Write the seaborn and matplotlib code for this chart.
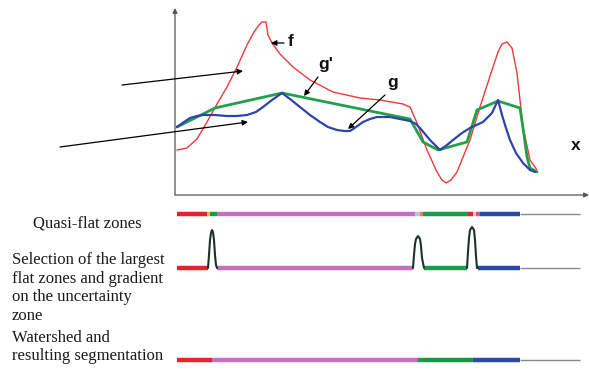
import matplotlib
matplotlib.use("Agg")
import pandas as pd
import matplotlib.pyplot as plt
import seaborn as sns

sns.set_theme(style="white")
plt.rcParams["font.family"] = ["Liberation Sans", "DejaVu Sans"]

# everything in pixel units (y grows downwards)
f_x = [177, 187, 197, 207, 217, 227, 237, 247, 254, 259, 262, 266, 268, 272, 280, 293, 310, 333, 360, 380,
       403, 410, 417, 427, 437, 442, 446, 451, 457, 470, 480, 493, 498, 502, 507, 512, 517, 523, 530, 537]
f_y = [150, 148, 139, 122, 104, 87, 67, 45, 32, 25, 22, 22, 35, 43, 54, 67, 80, 92, 98, 100,
       104, 107, 123, 150, 172, 180, 183, 180, 172, 140, 107, 67, 52, 44, 42, 48, 73, 127, 160, 170]

gp_x = [177, 215, 282, 380, 410, 423, 438, 467, 477, 498, 520, 524, 527, 530, 537]
gp_y = [127, 108, 93, 113, 119, 142, 150, 142, 110, 101, 108, 135, 157, 168, 172]

g_x = [177, 184, 190, 197, 203, 215, 227, 237, 247, 256, 263, 272, 282, 290, 300, 310, 320, 328, 337, 344,
       350, 356, 363, 370, 377, 390, 400, 410, 416, 420, 430, 440, 447, 453, 462, 470, 483, 492, 498, 502,
       506, 510, 516, 523, 530, 535]
g_y = [127, 122, 118, 116, 115, 115, 116, 116, 115, 112, 107, 100, 93, 99, 107, 115, 122, 127, 130, 131,
       131, 127, 122, 119, 117, 117, 119, 121, 124, 128, 140, 150, 145, 140, 133, 128, 122, 113, 100, 115,
       128, 140, 153, 163, 170, 172]

# row 1: quasi-flat zones
row1_start = [177, 207, 210, 217, 415, 420, 423, 468, 473, 476, 480]
row1_end = [207, 210, 217, 415, 420, 423, 468, 473, 476, 480, 520]
row1_col = ["#e5232b", "#c8c850", "#1b9a4a", "#c46fc0", "#b8c8d8", "#e08a50", "#1b9a4a", "#e5232b",
            "#f0c0d0", "#d0509a", "#2b4ba3"]

# row 2: largest flat zones + gradient on uncertainty zone
row2_start = [177, 217, 424, 478]
row2_end = [208, 413, 467, 520]
row2_col = ["#e5232b", "#c46fc0", "#1b9a4a", "#2b4ba3"]
peak_x = [
    [208, 209, 210, 211, 212, 213, 214, 215, 216, 217],
    [413, 414, 415, 416, 418, 420, 421, 422, 424],
    [467, 468, 469, 470, 472, 474, 475, 476, 477, 478],
]
peak_y = [
    [268, 255, 240, 233, 230, 232, 240, 255, 265, 268],
    [268, 255, 244, 239, 236, 239, 246, 258, 268],
    [268, 252, 238, 230, 227, 230, 240, 256, 268, 268],
]

# row 3: watershed segmentation
row3_start = [177, 212, 418, 473]
row3_end = [212, 418, 473, 520]
row3_col = ["#e5232b", "#c46fc0", "#1b9a4a", "#2b4ba3"]

row_y = [214, 268, 360]
tail_end = 580

fig = plt.figure(figsize=(5.89, 3.80), dpi=100)
ax = fig.add_axes([0, 0, 1, 1])
ax.set_xlim(0, 589)
ax.set_ylim(380, 0)
ax.axis("off")

# axes of the sketch
arrow_kw = dict(arrowstyle="-|>", color="#555555", lw=0.9, mutation_scale=7, shrinkA=0, shrinkB=0)
ax.annotate("", xy=(175, 8), xytext=(175, 195), arrowprops=arrow_kw)
ax.annotate("", xy=(589, 195), xytext=(175, 195), arrowprops=arrow_kw)

curves = pd.concat([
    pd.DataFrame({"x": f_x, "y": f_y, "curve": "f"}),
    pd.DataFrame({"x": gp_x, "y": gp_y, "curve": "g'"}),
    pd.DataFrame({"x": g_x, "y": g_y, "curve": "g"}),
])
styles = {"f": ("#ec3a3a", 1.0), "g'": ("#22a04c", 2.0), "g": ("#2d45a8", 1.6)}
for name in ["f", "g'", "g"]:
    col, lw = styles[name]
    sub = curves[curves["curve"] == name]
    sns.lineplot(data=sub, x="x", y="y", sort=False, estimator=None, color=col, lw=lw, ax=ax)
ax.set_xlabel("")
ax.set_ylabel("")

# pointer arrows
ptr = dict(arrowstyle="-|>", color="black", lw=0.9, mutation_scale=8, shrinkA=0, shrinkB=0)
ax.annotate("", xy=(243, 71), xytext=(122, 85), arrowprops=ptr)
ax.annotate("", xy=(248, 122), xytext=(60, 147), arrowprops=ptr)
ax.annotate("", xy=(271, 43), xytext=(284, 43), arrowprops=ptr)
ax.annotate("", xy=(304, 96), xytext=(318, 77), arrowprops=ptr)
ax.annotate("", xy=(348, 129), xytext=(385, 95), arrowprops=ptr)

lab = dict(fontsize=12.5, fontweight="bold", ha="center", va="center", color="#111111")
ax.text(291, 42, "f", **lab)
ax.text(326, 64, "g'", **lab)
ax.text(393, 82, "g", **lab)
ax.text(576, 146, "x", **lab)

# bars
for y, starts, ends, cols in [(row_y[0], row1_start, row1_end, row1_col),
                              (row_y[1], row2_start, row2_end, row2_col),
                              (row_y[2], row3_start, row3_end, row3_col)]:
    ax.plot([ends[-1], tail_end], [y, y], color="#8a8a8a", lw=1.0, solid_capstyle="butt")
    for s, e, c in zip(starts, ends, cols):
        ax.plot([s, e], [y, y], color=c, lw=3.2, solid_capstyle="butt")

for px, py in zip(peak_x, peak_y):
    ax.plot(px, py, color="#1d3328", lw=1.5)

serif = dict(family=["Liberation Serif", "DejaVu Serif"], fontsize=12, color="#1a1a1a")
ax.text(87, 223, "Quasi-flat zones", ha="center", va="center", **serif)
ax.text(12, 288, "Selection of the largest\nflat zones and gradient\non the uncertainty\nzone",
        ha="left", va="center", linespacing=1.2, **serif)
ax.text(12, 347, "Watershed and\nresulting segmentation", ha="left", va="center", linespacing=1.1, **serif)

fig.savefig("out.png", dpi=100)
